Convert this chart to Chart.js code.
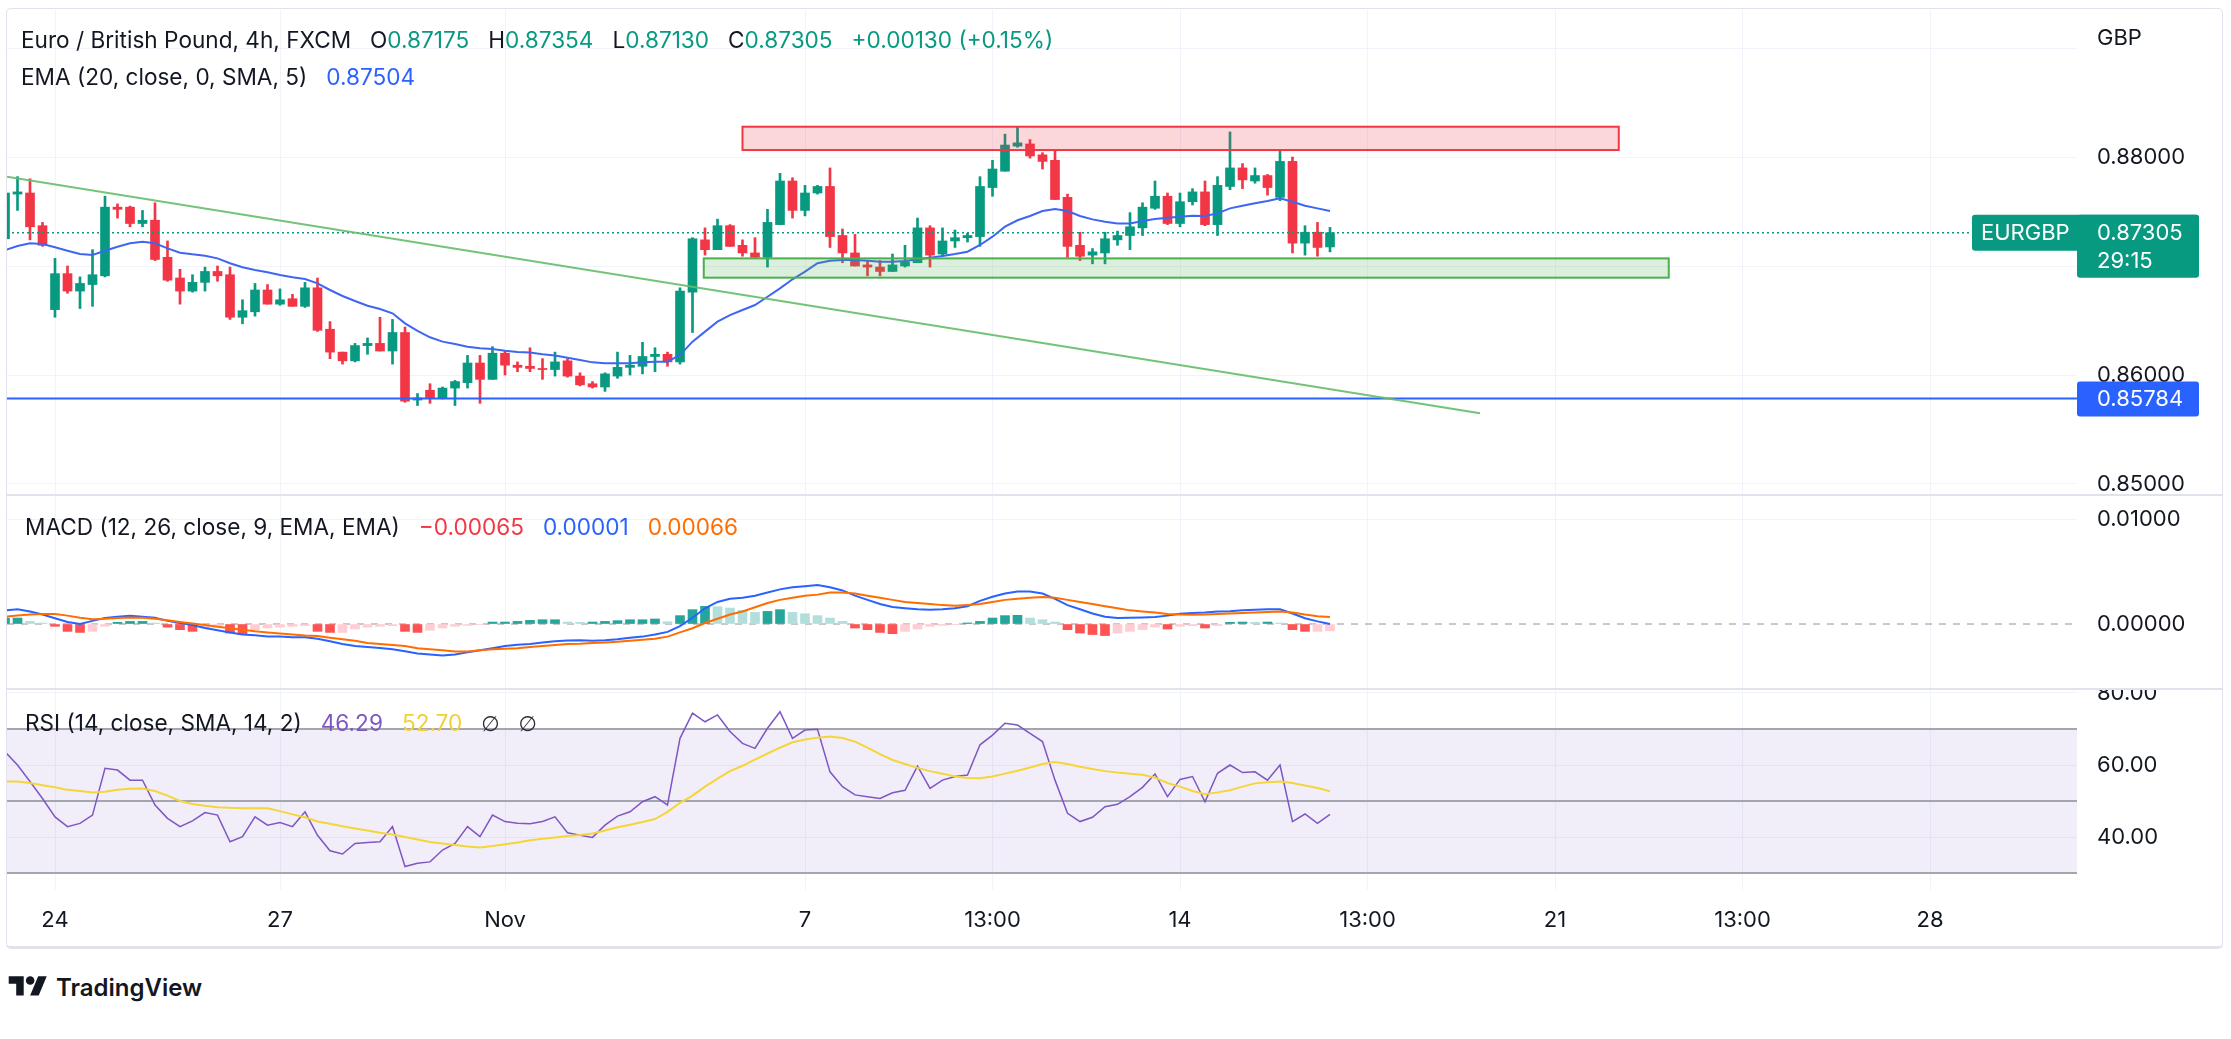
<!DOCTYPE html>
<html><head><meta charset="utf-8">
<script src="https://cdn.jsdelivr.net/npm/chart.js@4.4.1/dist/chart.umd.min.js"></script>
<style>
html,body{margin:0;padding:0;background:#fff;}
body{width:2231px;height:1039px;position:relative;overflow:hidden;font-family:Inter,"Open Sans",sans-serif;color:#131722;}
canvas{position:absolute;left:7px;}
.frame{position:absolute;left:6px;top:8px;width:2217px;height:941px;border:1px solid #E0E3EB;border-bottom-width:3px;border-radius:5px;box-sizing:border-box;pointer-events:none;}
.sep{position:absolute;left:7px;width:2215px;height:2px;background:#E0E3EB;}
.legend{position:absolute;left:21px;font-size:22.6px;line-height:30px;white-space:nowrap;}
.legend span.g{margin-left:19px;}
.legend span.sym{font-family:"DejaVu Sans",sans-serif;font-size:21px;color:#2A2E39;}
.up{color:#089981}.blue{color:#2962FF}.red{color:#F23645}.orange{color:#FF6D00}.purple{color:#7E57C2}.yellow{color:#F0CF3A}
#gbp{position:absolute;left:2097px;top:22px;font-size:22px;line-height:30px;}
#logo{position:absolute;left:7px;top:972px;height:30px;display:flex;align-items:center;font-size:24px;font-weight:600;color:#131722;}
#logo svg{margin-right:7px;}
</style></head>
<body>
<canvas id="cPrice" width="2215" height="485" style="top:10px"></canvas>
<canvas id="cMacd" width="2215" height="194" style="top:495px"></canvas>
<canvas id="cRsi" width="2215" height="259" style="top:689px"></canvas>
<div class="frame"></div>
<div class="sep" style="top:494px"></div>
<div class="sep" style="top:688px"></div>
<div id="hdr1" class="legend" style="top:25px"></div>
<div id="hdr2" class="legend" style="top:62px"></div>
<div id="hdrMacd" class="legend" style="top:512px;left:25px"></div>
<div id="hdrRsi" class="legend" style="top:708px;left:25px"></div>
<div id="gbp">GBP</div>
<div id="logo"><svg width="42" height="30" viewBox="0 0 36 28"><path d="M14 22H7V11H0V4h14v18z" fill="#131722"/><circle cx="20" cy="8" r="4" fill="#131722"/><path d="M28 22h-8l7.5-18h8L28 22z" fill="#131722"/></svg>TradingView</div>
<script>
// ---------- DATA ----------
const START_INDEX = -4; // bar index of first candle (0 = Oct 24 00:00, 4h bars)
const OPEN = [
 .8725,.8766,.8767,.8737,.8660,.8693,.8677,.8683,.8691,.8754,
 .8754,.8739,.8742,.8708,.8689,.8677,.8685,.8695,.8692,.8653,
 .8658,.8678,.8665,.8670,.8663,.8680,.8642,.8621,.8613,.8627,
 .8629,.8622,.8639,.8577,.8586,.8579,.8588,.8593,.8611,.8596,
 .8620,.8609,.8608,.8606,.8605,.8613,.8599,.8592,.8589,.8599,
 .8607,.8608,.8617,.8619,.8612,.8676,.8724,.8715,.8737,.8719,
 .8712,.8708,.8738,.8778,.8751,.8767,.8773,.8728,.8712,.8701,
 .8699,.8695,.8700,.8703,.8735,.8711,.8723,.8726,.8727,.8772,
 .8787,.8810,.8812,.8802,.8797,.8763,.8719,.8710,.8712,.8724,
 .8728,.8735,.8753,.8764,.8739,.8759,.8768,.8738,.8773,.8790,
 .8778,.8783,.8763,.8796,.8721,.8731,.87175];
const HIGH = [
 .8770,.8782,.8780,.8740,.8707,.8700,.8690,.8715,.8764,.8757,
 .8755,.8751,.8758,.8723,.8697,.8692,.8699,.8700,.8699,.8669,
 .8684,.8683,.8679,.8674,.8685,.8689,.8649,.8621,.8629,.8634,
 .8653,.8651,.8644,.8583,.8592,.8589,.8595,.8618,.8618,.8626,
 .8622,.8612,.8625,.8615,.8621,.8615,.8602,.8594,.8602,.8621,
 .8618,.8630,.8625,.8621,.8680,.8726,.8735,.8743,.8738,.8724,
 .8726,.8752,.8785,.8781,.8774,.8774,.8790,.8734,.8729,.8705,
 .8705,.8711,.8719,.8744,.8737,.8735,.8733,.8730,.8782,.8797,
 .8821,.8828,.8816,.8804,.8806,.8766,.8731,.8716,.8731,.8732,
 .8749,.8758,.8778,.8767,.8767,.8771,.8778,.8782,.8823,.8794,
 .8790,.8784,.8807,.8800,.8737,.8740,.87354];
const LOW = [
 .8722,.8751,.8724,.8718,.8653,.8675,.8661,.8663,.8690,.8744,
 .8736,.8736,.8705,.8686,.8665,.8676,.8677,.8686,.8651,.8647,
 .8654,.8665,.8664,.8663,.8662,.8640,.8615,.8610,.8612,.8619,
 .8622,.8610,.8575,.8572,.8574,.8578,.8572,.8588,.8574,.8596,
 .8600,.8603,.8603,.8596,.8599,.8598,.8590,.8588,.8585,.8597,
 .8600,.8601,.8603,.8608,.8610,.8639,.8710,.8715,.8718,.8709,
 .8708,.8699,.8738,.8744,.8746,.8766,.8717,.8703,.8700,.8691,
 .8691,.8695,.8699,.8703,.8699,.8710,.8717,.8722,.8718,.8764,
 .8787,.8809,.8799,.8789,.8761,.8708,.8705,.8702,.8702,.8719,
 .8715,.8728,.8752,.8738,.8736,.8756,.8737,.8728,.8770,.8771,
 .8776,.8765,.8760,.8712,.8710,.8709,.87130];
const CLOSE = [
 .8767,.8768,.8736,.8719,.8693,.8677,.8684,.8692,.8754,.8752,
 .8739,.8742,.8706,.8687,.8677,.8685,.8695,.8691,.8653,.8659,
 .8678,.8665,.8669,.8663,.8680,.8641,.8621,.8613,.8627,.8629,
 .8622,.8639,.8576,.8579,.8579,.8588,.8594,.8611,.8596,.8620,
 .8609,.8607,.8606,.8605,.8612,.8599,.8591,.8589,.8601,.8607,
 .8609,.8617,.8619,.8612,.8677,.8725,.8715,.8737,.8718,.8712,
 .8708,.8740,.8778,.8751,.8767,.8773,.8727,.8712,.8700,.8699,
 .8695,.8701,.8704,.8735,.8710,.8723,.8726,.8728,.8773,.8789,
 .8811,.8813,.8801,.8796,.8761,.8718,.8709,.8713,.8725,.8728,
 .8736,.8754,.8764,.8739,.8759,.8768,.8738,.8774,.8790,.8779,
 .8783,.8772,.8796,.8721,.8731,.8717,.87305];
const EMA20 = [
 .87145,.87183,.87208,.87202,.87172,.8714,.8711,.87101,.8714,.87177,
 .87208,.87223,.87208,.87162,.87122,.87107,.87095,.8707,.87025,.86988,
 .86963,.86942,.86917,.86896,.8688,.86841,.8678,.86725,.86679,.86636,
 .86606,.86566,.86474,.86404,.86346,.86306,.86284,.8626,.86245,.86239,
 .86223,.86211,.86206,.8619,.86178,.86159,.86138,.86116,.86107,.86107,
 .86107,.86116,.86122,.86122,.86183,.86306,.86398,.86489,.8655,.86596,
 .86642,.86718,.86795,.86878,.86948,.87025,.87049,.87055,.87055,.87049,
 .8704,.8704,.87046,.87061,.87076,.87092,.8711,.87131,.87193,.87269,
 .87361,.8742,.87459,.87505,.87523,.87505,.87459,.87428,.87407,.87391,
 .87391,.87413,.87431,.87443,.87453,.87462,.87459,.87483,.87529,.87553,
 .87575,.87596,.87621,.8759,.87553,.87529,.87504];
const MACD_LINE = [
 .0013,.0014,.0012,.0009,.00055,.0002,0,.0003,.00058,.0007,
 .00078,.0007,.0006,.0003,.0001,-.0001,-.00038,-.0006,-.0008,-.001,
 -.00108,-.00118,-.0012,-.00125,-.00127,-.0014,-.00165,-.0019,-.0021,-.0022,
 -.00228,-.0024,-.0026,-.0028,-.0029,-.003,-.0029,-.0027,-.0025,-.0023,
 -.0021,-.00197,-.0019,-.00177,-.00165,-.00157,-.00155,-.0016,-.00155,-.00145,
 -.0013,-.0012,-.001,-.00075,-.0002,.0006,.0015,.0021,.0024,.0025,
 .0027,.003,.0033,.0035,.0036,.00372,.0035,.0032,.0027,.0023,
 .0019,.00162,.0015,.0014,.00136,.0014,.0015,.0017,.0022,.0026,
 .0029,.0031,.0031,.0029,.0024,.0018,.0014,.001,.0007,.00057,
 .0006,.00063,.00068,.0008,.00098,.00105,.0011,.0012,.00122,.0013,
 .00137,.0014,.0014,.001,.00055,.00025,.00001];
const MACD_SIGNAL = [
 .0007,.0008,.0009,.00095,.00095,.0008,.0006,.00045,.0005,.00058,
 .00062,.0006,.0005,.00035,.0002,.00005,-.0001,-.00025,-.0004,-.00055,
 -.0007,-.0008,-.0009,-.001,-.0011,-.00115,-.0013,-.00145,-.0016,-.0018,
 -.0019,-.002,-.0021,-.0023,-.0024,-.0025,-.00261,-.00262,-.0025,-.0024,
 -.00235,-.0023,-.0022,-.0021,-.002,-.0019,-.00188,-.0018,-.00175,-.0017,
 -.0016,-.0015,-.0014,-.0012,-.0008,-.0004,.0001,.0005,.0009,.0012,
 .0016,.002,.0023,.0025,.0027,.0028,.003,.003,.0029,.0027,
 .0025,.0023,.0021,.002,.0019,.0018,.00175,.0018,.0019,.0021,
 .0023,.0024,.0025,.00257,.0025,.0023,.0021,.0019,.0017,.0015,
 .0013,.0012,.0011,.00095,.0009,.00089,.0009,.00095,.001,.00105,
 .0011,.00115,.0012,.0011,.0009,.00075,.00066];
const MACD_HIST = [
 .00057,.00057,.00025,.0001,-.00022,-.0007,-.0008,-.0007,-.00022,.00016,
 .00025,.00025,.0001,-.0003,-.00054,-.0007,-.00038,-.0003,-.00086,-.001,
 -.00054,-.00038,-.0003,-.00022,-.00016,-.0007,-.0008,-.0008,-.00048,-.0003,
 -.00022,-.00016,-.0007,-.0008,-.0006,-.00038,-.00022,-.00013,-.00006,.00019,
 .00019,.00025,.00035,.00041,.00041,.00019,.00016,.00019,.00025,.00032,
 .00041,.00041,.00048,.00022,.0008,.00137,.00168,.00165,.00152,.0013,
 .00111,.0012,.00137,.00111,.00098,.0008,.00057,.00025,-.00038,-.00054,
 -.0008,-.00092,-.0007,-.00048,-.00022,-.00013,-.00006,.0001,.00025,.00057,
 .0008,.00083,.00057,.00041,.00019,-.00054,-.00086,-.001,-.0011,-.00086,
 -.0007,-.00054,-.0003,-.00048,-.00022,-.00016,-.00038,-.00016,.00016,.00019,
 .00016,.00019,.0001,-.00054,-.0007,-.0007,-.00065];
const RSI = [
 63.7,60.0,55.4,50.7,45.6,42.9,43.8,46.1,59.1,58.6,
 55.8,55.8,48.9,45.2,42.9,44.5,46.8,46.1,38.7,40.1,
 45.6,43.3,44.0,42.9,47.0,40.5,36.2,35.3,38.2,38.5,
 38.7,42.9,31.8,32.7,33.1,36.4,38.2,42.9,40.1,46.1,
 44.3,43.8,43.7,44.3,45.6,41.2,40.5,39.9,43.3,45.8,
 47.0,49.8,51.2,48.9,67.4,74.4,72.0,73.9,69.3,66.0,
 64.6,70.2,74.8,67.4,69.7,69.9,58.1,54.0,51.7,51.2,
 50.7,52.3,53.0,59.7,53.5,55.8,56.8,57.2,65.6,68.3,
 71.6,71.1,68.8,66.5,55.8,46.6,44.3,45.5,48.4,49.1,
 51.2,53.8,57.5,51.2,56.0,56.8,49.8,57.7,60.0,57.9,
 58.1,55.8,60.0,44.3,46.4,43.8,46.29];
const RSI_MA = [
 55.4,55.4,55.0,54.4,53.8,53.1,52.8,52.4,52.6,53.1,
 53.4,53.5,52.8,51.5,50.0,49.2,48.7,48.3,48.1,48.0,
 48.0,48.0,47.2,46.3,45.5,44.3,43.7,43.0,42.4,41.8,
 41.2,40.7,40.0,39.3,38.6,38.2,37.8,37.4,37.1,37.5,
 38.0,38.5,39.1,39.5,39.9,40.3,40.6,41.0,41.8,42.7,
 43.4,44.2,45.0,47.0,49.5,51.5,54.0,56.2,58.3,59.8,
 61.5,63.2,64.8,66.3,67.1,67.6,67.9,67.5,66.5,64.8,
 63.0,61.4,60.3,59.2,58.3,57.6,56.8,56.4,56.3,56.8,
 57.6,58.4,59.3,60.3,60.8,60.3,59.5,58.9,58.3,57.9,
 57.6,57.3,56.5,55.0,54.0,52.8,51.9,52.4,53.0,54.0,
 54.9,55.2,55.4,55.0,54.3,53.6,52.7];

const TIME_TICKS = [0,18,36,60,75,90,105,120,135,150];
const TIME_LABELS = ['24','27','Nov','7','13:00','14','13:00','21','13:00','28'];
const PRICE_TICKS = [0.85,0.86,0.87,0.88,0.89];
const PRICE_LABELS = ['0.85000','0.86000','','0.88000',''];
const MACD_TICKS = [0,0.01];
const MACD_LABELS = ['0.00000','0.01000'];
const RSI_TICKS = [40,60,80];
const RSI_LABELS = ['40.00','60.00','80.00'];
const RSI_LEVELS = [70,50,30];
const TREND_X = [-3.84,114];
const TREND_Y = [0.8782,0.8565];
const SUPPORT_LEVEL = 0.85784;
const RED_ZONE_X = [55,125.1];
const RED_ZONE_Y = [0.88064,0.88278];
const GREEN_ZONE_X = [51.9,129.1];
const GREEN_ZONE_Y = [0.86893,0.8707];
const SYMBOL = 'EURGBP';
const COUNTDOWN = '29:15';

// ---------- view ranges ----------
const X_MIN = -3.84, X_MAX = 161.76;
const PRICE_RANGE = [0.84899,0.89349];
const MACD_RANGE = [-0.00619,0.01229];
const RSI_RANGE = [25.3,81.1];
const FONT = 'Inter, "Open Sans", sans-serif';
const FS = 22;
const UP = '#089981', DOWN = '#F23645';

const xs = OPEN.map((_,k)=>START_INDEX+k);
const last = CLOSE.length-1;
const LAST_PRICE = CLOSE[last];

function xScale(showLabels){
  return {type:'linear',min:X_MIN,max:X_MAX,offset:false,
    afterBuildTicks:s=>{s.ticks=TIME_TICKS.map(v=>({value:v}));},
    afterFit:s=>{s.height=showLabels?58:0;s.paddingLeft=0;s.paddingRight=0;},
    grid:{color:'#F0F3FA',lineWidth:1,drawTicks:false,offset:false},
    border:{display:false},
    ticks:{display:showLabels,autoSkip:false,maxRotation:0,padding:17,color:'#131722',
      font:{family:FONT,size:FS},callback:(v,i)=>TIME_LABELS[i]}};
}
function yScale(range,ticks,labels,gridFn){
  return {position:'right',min:range[0],max:range[1],
    afterBuildTicks:s=>{s.ticks=ticks.map(v=>({value:v}));},
    afterFit:s=>{s.width=145;s.paddingTop=0;s.paddingBottom=0;},
    grid:{color:gridFn||'#F0F3FA',lineWidth:1,drawTicks:false},
    border:{display:false},
    ticks:{padding:20,autoSkip:false,color:'#131722',font:{family:FONT,size:FS},callback:(v,i)=>labels[i]}};
}
const baseOpts = {animation:false,responsive:false,devicePixelRatio:1,events:[],
  layout:{padding:0},plugins:{legend:{display:false},tooltip:{enabled:false}}};
function pts(arr){return xs.map((x,k)=>({x,y:arr[k]}));}
function hline(v){return [{x:X_MIN,y:v},{x:X_MAX,y:v}];}
function lineDs(data,color,width,order,extra){return Object.assign({type:'line',data,borderColor:color,borderWidth:width,pointRadius:0,tension:0,order},extra||{});}

// ---------- price pane ----------
const candleColors = xs.map((_,k)=>CLOSE[k]>=OPEN[k]?UP:DOWN);
function roundRect(ctx,x,y,w,h,r){ctx.beginPath();ctx.moveTo(x+r,y);ctx.lineTo(x+w-r,y);ctx.quadraticCurveTo(x+w,y,x+w,y+r);ctx.lineTo(x+w,y+h-r);ctx.quadraticCurveTo(x+w,y+h,x+w-r,y+h);ctx.lineTo(x+r,y+h);ctx.quadraticCurveTo(x,y+h,x,y+h-r);ctx.lineTo(x,y+r);ctx.quadraticCurveTo(x,y,x+r,y);ctx.closePath();}
const zonesPlugin = {id:'zones',afterDatasetsDraw(chart){
  const {ctx,chartArea:a,scales:{x,y}} = chart;
  const zones = [[RED_ZONE_X,RED_ZONE_Y,'rgba(242,54,69,0.2)','#F23645'],[GREEN_ZONE_X,GREEN_ZONE_Y,'rgba(76,175,80,0.2)','#4CAF50']];
  ctx.save();ctx.beginPath();ctx.rect(a.left,a.top,a.width,a.height);ctx.clip();
  zones.forEach(([zx,zy,fill,stroke])=>{
    const x0=x.getPixelForValue(zx[0]),x1=x.getPixelForValue(zx[1]);
    const y0=y.getPixelForValue(zy[1]),y1=y.getPixelForValue(zy[0]);
    ctx.fillStyle=fill;ctx.fillRect(x0,y0,x1-x0,y1-y0);
    ctx.strokeStyle=stroke;ctx.lineWidth=2;ctx.strokeRect(x0,y0,x1-x0,y1-y0);
  });
  ctx.restore();
}};
const priceLabelPlugin = {id:'priceLabels',afterDraw(chart){
  const {ctx,chartArea:a,scales:{y}} = chart;
  const r = a.right;
  const yl = y.getPixelForValue(LAST_PRICE);
  ctx.save();
  ctx.fillStyle=UP;
  roundRect(ctx,r-105,yl-18,227,36,3);ctx.fill();
  roundRect(ctx,r,yl-18,122,63,3);ctx.fill();
  ctx.fillStyle='#fff';ctx.font=FS+'px '+FONT;ctx.textBaseline='middle';ctx.textAlign='left';
  ctx.fillText(SYMBOL,r-96,yl+1);
  ctx.fillText(LAST_PRICE.toFixed(5),r+20,yl+1);
  ctx.fillText(COUNTDOWN,r+20,yl+29);
  const ys = y.getPixelForValue(SUPPORT_LEVEL);
  ctx.fillStyle='#2962FF';
  roundRect(ctx,r,ys-17,122,35,3);ctx.fill();
  ctx.fillStyle='#fff';
  ctx.fillText(SUPPORT_LEVEL.toFixed(5),r+20,ys+1);
  ctx.restore();
}};
new Chart(document.getElementById('cPrice'),{type:'bar',
  data:{datasets:[
    lineDs(TREND_X.map((x,k)=>({x,y:TREND_Y[k]})),'rgba(102,187,106,0.9)',2,0),
    lineDs(hline(SUPPORT_LEVEL),'#2962FF',2,0),
    lineDs(hline(LAST_PRICE),UP,1.5,0,{borderDash:[2,3]}),
    lineDs(pts(EMA20),'#3F66F2',2,1),
    {type:'bar',data:xs.map((x,k)=>({x,y:[OPEN[k],CLOSE[k]]})),backgroundColor:candleColors,barThickness:9,minBarLength:1,grouped:false,order:2},
    {type:'bar',data:xs.map((x,k)=>({x,y:[LOW[k],HIGH[k]]})),backgroundColor:candleColors,barThickness:2,grouped:false,order:3}
  ]},
  options:Object.assign({},baseOpts,{scales:{x:xScale(false),y:yScale(PRICE_RANGE,PRICE_TICKS,PRICE_LABELS)}}),
  plugins:[zonesPlugin,priceLabelPlugin]});

// ---------- MACD pane ----------
const histColors = MACD_HIST.map((v,k)=>{const p=k>0?MACD_HIST[k-1]:v;
  return v>=0?(v>=p?'#26A69A':'#B2DFDB'):(v<p?'#FF5252':'#FFCDD2');});
new Chart(document.getElementById('cMacd'),{type:'bar',
  data:{datasets:[
    lineDs(pts(MACD_SIGNAL),'#FF6D00',2,0),
    lineDs(pts(MACD_LINE),'#2962FF',2,1),
    {type:'bar',data:pts(MACD_HIST),backgroundColor:histColors,barThickness:9,grouped:false,order:2},
    lineDs(hline(0),'rgba(120,123,134,0.55)',1.5,3,{borderDash:[7,7]})
  ]},
  options:Object.assign({},baseOpts,{scales:{x:xScale(false),
    y:yScale(MACD_RANGE,MACD_TICKS,MACD_LABELS,c=>c.tick&&c.tick.value===0?'rgba(0,0,0,0)':'#F0F3FA')}})});

// ---------- RSI pane ----------
new Chart(document.getElementById('cRsi'),{type:'line',
  data:{datasets:[
    lineDs(pts(RSI_MA),'#F5D53A',2,0),
    lineDs(pts(RSI),'#7E57C2',1.5,1),
    lineDs(hline(RSI_LEVELS[1]),'#A3A6AF',2,2),
    lineDs(hline(RSI_LEVELS[2]),'#A3A6AF',2,2),
    lineDs(hline(RSI_LEVELS[0]),'#A3A6AF',2,3,{fill:{value:RSI_LEVELS[2]},backgroundColor:'rgba(126,87,194,0.1)'})
  ]},
  options:Object.assign({},baseOpts,{scales:{x:xScale(true),y:yScale(RSI_RANGE,RSI_TICKS,RSI_LABELS)}})});

// ---------- legends ----------
const f5=v=>v.toFixed(5);
const chg = CLOSE[last]-OPEN[last];
const pct = chg/OPEN[last]*100;
const sgn = v=>(v>=0?'+':'\u2212');
document.getElementById('hdr1').innerHTML =
  'Euro / British Pound, 4h, FXCM'+
  '<span class="g">O</span><span class="up">'+f5(OPEN[last])+'</span>'+
  '<span class="g">H</span><span class="up">'+f5(HIGH[last])+'</span>'+
  '<span class="g">L</span><span class="up">'+f5(LOW[last])+'</span>'+
  '<span class="g">C</span><span class="up">'+f5(CLOSE[last])+'</span>'+
  '<span class="g up">'+sgn(chg)+f5(Math.abs(chg))+' ('+sgn(pct)+Math.abs(pct).toFixed(2)+'%)</span>';
document.getElementById('hdr2').innerHTML =
  'EMA (20, close, 0, SMA, 5)<span class="g blue">'+f5(EMA20[last])+'</span>';
const fm=v=>(v<0?'\u2212':'')+Math.abs(v).toFixed(5);
document.getElementById('hdrMacd').innerHTML =
  'MACD (12, 26, close, 9, EMA, EMA)<span class="g red">'+fm(MACD_HIST[last])+'</span>'+
  '<span class="g blue">'+fm(MACD_LINE[last])+'</span><span class="g orange">'+fm(MACD_SIGNAL[last])+'</span>';
document.getElementById('hdrRsi').innerHTML =
  'RSI (14, close, SMA, 14, 2)<span class="g purple">'+RSI[last].toFixed(2)+'</span>'+
  '<span class="g yellow">'+RSI_MA[last].toFixed(2)+'</span><span class="g sym">\u2205</span><span class="g sym">\u2205</span>';
</script>
</body></html>
